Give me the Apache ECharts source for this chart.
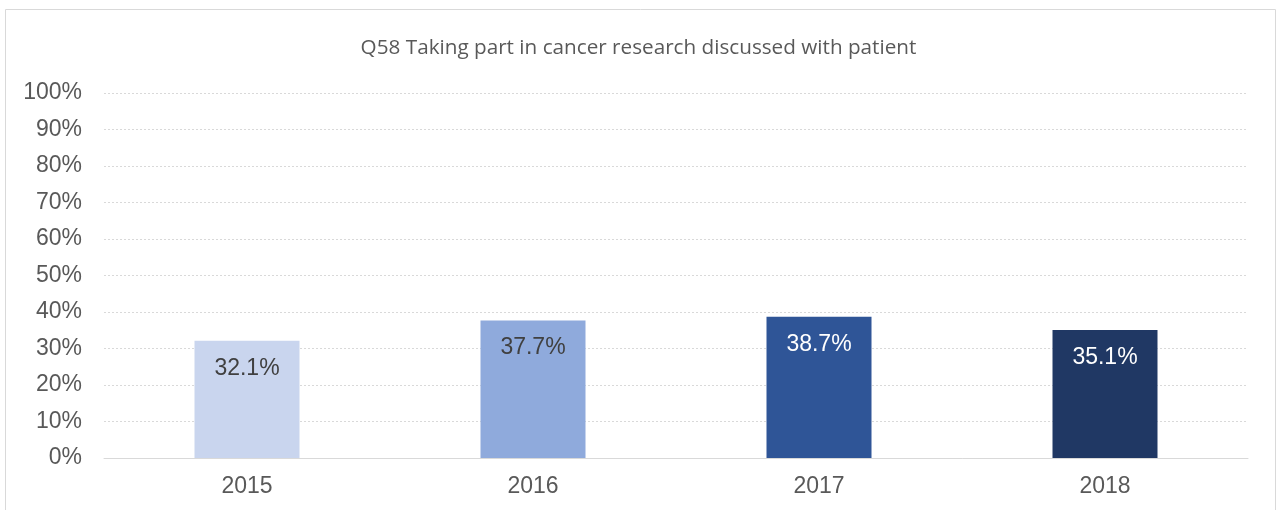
<!DOCTYPE html>
<html><head><meta charset="utf-8">
<script src="https://cdn.jsdelivr.net/npm/echarts@6/dist/echarts.min.js"></script>
<style>html,body{margin:0;padding:0;background:#fff}#c{width:1277px;height:510px}</style>
</head><body><div id="c"></div>
<script>
const titleText = 'Q58 Taking part in cancer research discussed with patient';
const categories = ['2015', '2016', '2017', '2018'];
const values = [32.1, 37.7, 38.7, 35.1];
const barColors = ['#C9D5EE', '#8FAADC', '#2F5597', '#203864'];
const labelColors = ['#404040', '#404040', '#FFFFFF', '#FFFFFF'];

const chart = echarts.init(document.getElementById('c'));
chart.setOption({
  animation: false,
  title: {
    text: titleText, left: 'center', top: 33,
    textStyle: {fontFamily: 'Open Sans', fontSize: 20.7, fontWeight: 'normal', color: '#595959'}
  },
  graphic: [{type: 'rect', shape: {x: 5.5, y: 9.5, width: 1270, height: 520},
    style: {fill: 'none', stroke: '#D9D9D9', lineWidth: 1}, silent: true}],
  grid: {left: 104, right: 29, top: 93, bottom: 52, containLabel: false},
  xAxis: {
    type: 'category', data: categories,
    axisLine: {lineStyle: {color: '#D9D9D9', width: 1}},
    axisTick: {show: false},
    axisLabel: {fontFamily: 'Liberation Sans', fontSize: 23, color: '#595959', margin: 17}
  },
  yAxis: {
    type: 'value', min: 0, max: 100, interval: 10,
    axisLine: {show: false}, axisTick: {show: false},
    splitLine: {lineStyle: {color: '#D9D9D9', type: [2, 2], width: 1}},
    axisLabel: {formatter: '{value}%', fontFamily: 'Liberation Sans', fontSize: 23, color: '#595959', margin: 22}
  },
  series: [{
    type: 'bar', barWidth: 105,
    data: values.map((v, i) => ({
      value: v,
      itemStyle: {color: barColors[i]},
      label: {color: labelColors[i]}
    })),
    label: {
      show: true, position: 'insideTop', distance: 16,
      fontFamily: 'Liberation Sans', fontSize: 23,
      formatter: p => p.value.toFixed(1) + '%'
    }
  }]
});
</script></body></html>
